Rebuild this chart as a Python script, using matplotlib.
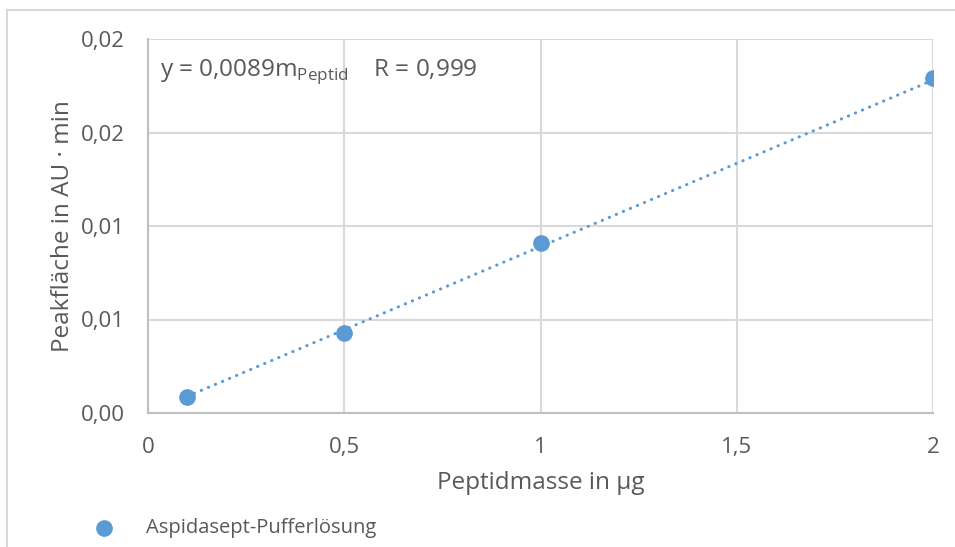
import matplotlib.pyplot as plt
from matplotlib.lines import Line2D
import numpy as np

plt.rcParams['font.family'] = ['Open Sans', 'DejaVu Sans']
plt.rcParams['mathtext.fontset'] = 'custom'
plt.rcParams['mathtext.rm'] = 'Open Sans'

# Kalibrierdaten
masse = [0.1, 0.5, 1.0, 2.0]
flaeche = [0.00087, 0.0043, 0.0091, 0.0179]
steigung = 0.0089

x_ticks = [0, 0.5, 1, 1.5, 2]
x_labels = ['0', '0,5', '1', '1,5', '2']
y_ticks = [0, 0.005, 0.01, 0.015, 0.02]
y_labels = ['0,00', '0,01', '0,01', '0,02', '0,02']

blau = '#5B9BD5'
grau = '#595959'
gitter = '#D9D9D9'

fig = plt.figure(figsize=(9.55, 5.47), dpi=100)
ax = fig.add_axes([148 / 955, 1 - 413 / 547, (933 - 148) / 955, (413 - 39) / 547])

# Trendlinie durch den Ursprung
xt = np.array([masse[0], masse[-1]])
ax.plot(xt, steigung * xt, color=blau, lw=2.2, linestyle=(0, (0.1, 2.4)),
        dash_capstyle='round', zorder=3)
ax.plot(masse, flaeche, 'o', color=blau, ms=11, zorder=4)

ax.set_xlim(0, 2)
ax.set_ylim(0, 0.02)
ax.set_xticks(x_ticks)
ax.set_xticklabels(x_labels)
ax.set_yticks(y_ticks)
ax.set_yticklabels(y_labels)
ax.tick_params(length=0, labelsize=16, labelcolor=grau)
ax.tick_params(axis='x', pad=17.5)
ax.tick_params(axis='y', pad=17)
ax.grid(True, color=gitter, lw=1.5)
for s in ['top', 'right']:
    ax.spines[s].set_visible(False)
for s in ['left', 'bottom']:
    ax.spines[s].set_color('#BFBFBF')
    ax.spines[s].set_linewidth(1.5)

ax.set_xlabel('Peptidmasse in µg', fontsize=17.5, color=grau, labelpad=9)
ax.set_ylabel('Peakfläche in AU · min', fontsize=17.5, color=grau, labelpad=4)

ax.text(0.015, 0.952, r'y = 0,0089m$_\mathrm{Peptid}$    R = 0,999',
        transform=ax.transAxes, fontsize=17.5, color=grau, va='top', ha='left')

# Legende unten links
fig.add_artist(Line2D([104 / 955], [1 - 528 / 547], marker='o', color=blau,
                      ms=11, transform=fig.transFigure))
fig.text(146 / 955, 1 - 528 / 547, 'Aspidasept-Pufferlösung', fontsize=14.5,
         color=grau, va='center', ha='left')

# Rahmen des Diagrammbereichs
fig.add_artist(Line2D([7 / 955, 1], [1 - 10 / 547] * 2, color=gitter, lw=1.5,
                      transform=fig.transFigure))
fig.add_artist(Line2D([7 / 955] * 2, [0, 1 - 10 / 547], color=gitter, lw=1.5,
                      transform=fig.transFigure))

fig.savefig('out.png', dpi=100)
